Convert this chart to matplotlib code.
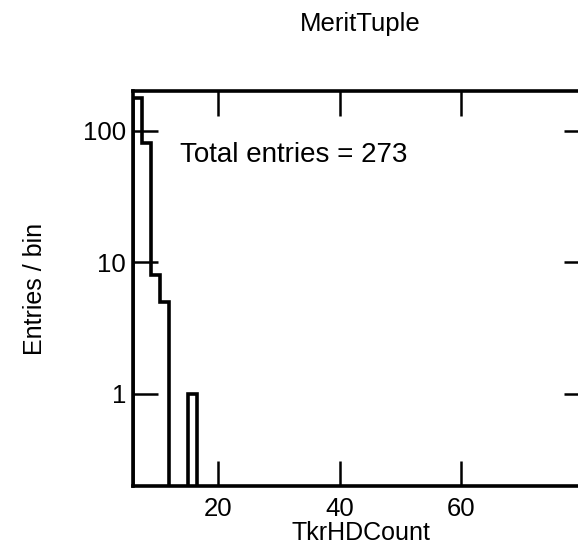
import numpy as np
import matplotlib
matplotlib.use("Agg")
import matplotlib.pyplot as plt

plt.rcParams['font.family'] = ['Liberation Sans', 'DejaVu Sans']

# Histogram data (TkrHDCount), bin width 1.5 from 6 to 81
x_min, x_max, n_bins = 6.0, 81.0, 50
filled_bin_low_edges = [6.0, 7.5, 9.0, 10.5, 15.0]
filled_bin_counts = [178, 81, 8, 5, 1]
total_entries = 273

x_ticks = [20, 40, 60]
y_ticks = [1, 10, 100]
y_tick_labels = ["1", "10", "100"]

edges = np.linspace(x_min, x_max, n_bins + 1)
counts = np.zeros(n_bins)
for lo, c in zip(filled_bin_low_edges, filled_bin_counts):
    idx = int(round((lo - x_min) / (edges[1] - edges[0])))
    counts[idx] = c

fig = plt.figure(figsize=(5.78, 5.47), dpi=100)
ax = fig.add_axes([0.230, 0.1115, 0.789, 0.7221])

draw_vals = np.where(counts > 0, counts, 1e-4)
ax.stairs(draw_vals, edges, baseline=1e-4, color='black', linewidth=2.6)

ax.set_yscale('log')
ax.set_xlim(x_min, x_max)
ax.set_ylim(0.2, 200)
ax.set_xticks(x_ticks)
ax.set_xticklabels([str(t) for t in x_ticks])
ax.set_yticks(y_ticks)
ax.set_yticklabels(y_tick_labels)
ax.yaxis.set_minor_locator(matplotlib.ticker.NullLocator())
ax.xaxis.set_minor_locator(matplotlib.ticker.NullLocator())

ax.tick_params(axis='both', which='major', direction='in', length=18, width=1.8,
               top=True, right=True, labelsize=18.5, pad=8, color='black')
ax.tick_params(axis='y', pad=5)
for s in ax.spines.values():
    s.set_linewidth(2.6)
    s.set_color('black')

ax.set_xlabel("TkrHDCount", fontsize=18, labelpad=0)
ax.set_ylabel("Entries / bin", fontsize=18, labelpad=26)
fig.text(0.623, 0.957, "MeritTuple", ha='center', va='center', fontsize=18.5)
fig.text(180 / 578, 1 - 155 / 547, f"Total entries = {total_entries}",
         fontsize=20, ha='left', va='center')

fig.savefig("out.png", dpi=100)
